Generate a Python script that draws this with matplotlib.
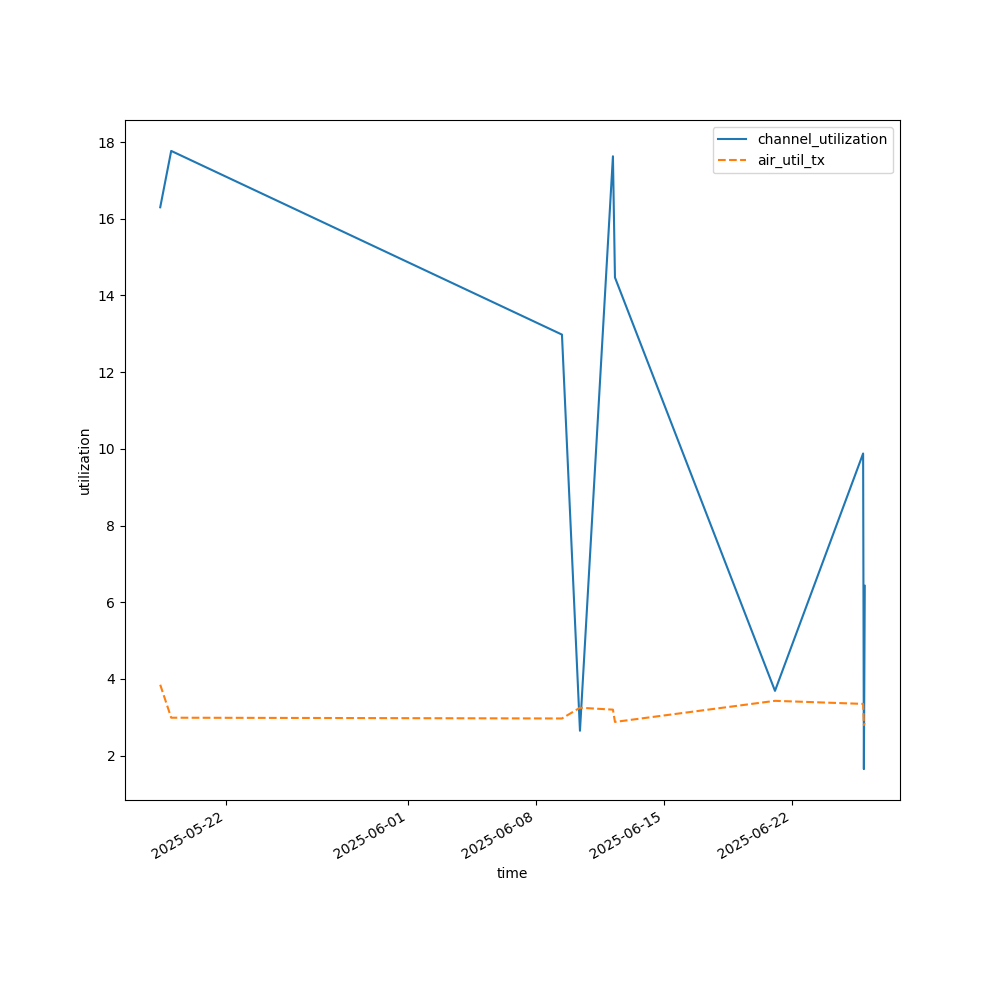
import matplotlib
matplotlib.use("Agg")
import matplotlib.pyplot as plt
import pandas as pd

times = pd.to_datetime([
    "2025-05-18 10:00", "2025-05-19 00:25", "2025-06-09 10:00",
    "2025-06-10 09:40", "2025-06-12 05:00", "2025-06-12 07:40",
    "2025-06-21 02:00", "2025-06-25 21:50", "2025-06-25 22:50",
    "2025-06-26 00:00",
])
channel_utilization = [16.30, 17.77, 12.98, 2.65, 17.63, 14.47, 3.69, 9.88, 1.65, 6.43]
air_util_tx = [3.85, 2.99, 2.97, 3.25, 3.20, 2.88, 3.43, 3.35, 2.80, 2.85]

fig, ax = plt.subplots(figsize=(10, 10), dpi=100)
ax.plot(times, channel_utilization, label="channel_utilization")
ax.plot(times, air_util_tx, linestyle="--", label="air_util_tx")
ax.set_xlabel("time")
ax.set_ylabel("utilization")
ax.legend(loc="upper right")
fig.autofmt_xdate()
fig.savefig("out.png")
